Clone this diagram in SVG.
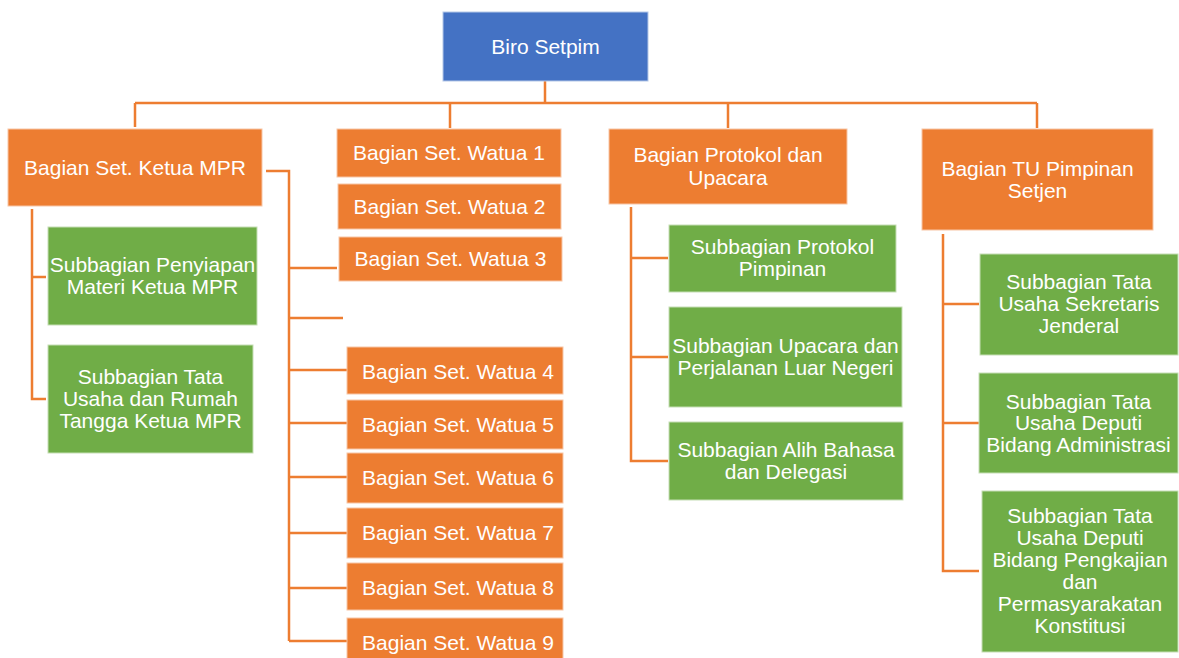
<svg xmlns="http://www.w3.org/2000/svg" width="1179" height="658" viewBox="0 0 1179 658">
<style>
.o{fill:#ED7D31;stroke:#F7C6A6;stroke-width:1}
.g{fill:#70AD47;stroke:#C5DEB5;stroke-width:1}
.b{fill:#4472C4;stroke:#B4C7E7;stroke-width:1}
text{font-family:"Liberation Sans",Arial,sans-serif;font-size:21px;fill:#FFFFFF;text-anchor:middle}
.c{fill:none;stroke:#ED7D31;stroke-width:2.5}
</style>
<rect width="1179" height="658" fill="#FFFFFF"/>
<g id="connectors">
<path class="c" d="M545 81V103M135 103H1037M135 103V127M450 103V128M728 103V128M1037 103V128"/>
<path class="c" d="M266 171H289V641M289 268H337M289 318H343M289 370H347M289 423H347M289 477H347M289 533H347M289 588H347M289 641H347"/>
<path class="c" d="M32 209V399H46M32 277H46"/>
<path class="c" d="M631 207V461H668M631 258H668M631 357H668"/>
<path class="c" d="M943 234V571H979M943 304H979M943 423H979"/>
</g>
<g id="biro"><rect class="b" x="443" y="12" width="205" height="69"/><text x="545.5" y="54">Biro Setpim</text></g>
<g id="ketua"><rect class="o" x="8" y="129" width="254" height="77"/><text x="135" y="175">Bagian Set. Ketua MPR</text></g>
<g id="penyiapan"><rect class="g" x="48" y="227" width="209" height="98"/><text x="152.5" y="272">Subbagian Penyiapan</text><text x="152.5" y="294">Materi Ketua MPR</text></g>
<g id="rumahtangga"><rect class="g" x="48" y="345" width="205" height="108"/><text x="150.5" y="384">Subbagian Tata</text><text x="150.5" y="406">Usaha dan Rumah</text><text x="150.5" y="428">Tangga Ketua MPR</text></g>
<g id="watua1"><rect class="o" x="337" y="129" width="224" height="48"/><text x="449" y="160">Bagian Set. Watua 1</text></g>
<g id="watua2"><rect class="o" x="338" y="184" width="223" height="45"/><text x="449.5" y="214">Bagian Set. Watua 2</text></g>
<g id="watua3"><rect class="o" x="339" y="237" width="223" height="44"/><text x="450.5" y="266">Bagian Set. Watua 3</text></g>
<g id="watua4"><rect class="o" x="347" y="347" width="216" height="47"/><text x="458" y="379">Bagian Set. Watua 4</text></g>
<g id="watua5"><rect class="o" x="347" y="400" width="216" height="49"/><text x="458" y="432">Bagian Set. Watua 5</text></g>
<g id="watua6"><rect class="o" x="347" y="453" width="216" height="50"/><text x="458" y="485">Bagian Set. Watua 6</text></g>
<g id="watua7"><rect class="o" x="347" y="508" width="216" height="50"/><text x="458" y="540">Bagian Set. Watua 7</text></g>
<g id="watua8"><rect class="o" x="347" y="563" width="216" height="47"/><text x="458" y="595">Bagian Set. Watua 8</text></g>
<g id="watua9"><rect class="o" x="347" y="618" width="216" height="50"/><text x="458" y="650">Bagian Set. Watua 9</text></g>
<g id="protokol"><rect class="o" x="609" y="129" width="238" height="75"/><text x="728" y="162">Bagian Protokol dan</text><text x="728" y="185">Upacara</text></g>
<g id="protokolpimpinan"><rect class="g" x="669" y="225" width="227" height="67"/><text x="782.5" y="254">Subbagian Protokol</text><text x="782.5" y="276">Pimpinan</text></g>
<g id="upacara"><rect class="g" x="669" y="307" width="233" height="100"/><text x="785.5" y="353">Subbagian Upacara dan</text><text x="785.5" y="375">Perjalanan Luar Negeri</text></g>
<g id="alihbahasa"><rect class="g" x="669" y="422" width="234" height="78"/><text x="786" y="457">Subbagian Alih Bahasa</text><text x="786" y="479">dan Delegasi</text></g>
<g id="tupimpinan"><rect class="o" x="922" y="129" width="231" height="101"/><text x="1037.5" y="176">Bagian TU Pimpinan</text><text x="1037.5" y="198">Setjen</text></g>
<g id="sekretaris"><rect class="g" x="980" y="254" width="198" height="101"/><text x="1079" y="289">Subbagian Tata</text><text x="1079" y="311">Usaha Sekretaris</text><text x="1079" y="333">Jenderal</text></g>
<g id="administrasi"><rect class="g" x="979" y="373" width="199" height="100"/><text x="1078.5" y="409">Subbagian Tata</text><text x="1078.5" y="430">Usaha Deputi</text><text x="1078.5" y="452">Bidang Administrasi</text></g>
<g id="pengkajian"><rect class="g" x="982" y="491" width="196" height="161"/><text x="1080" y="523">Subbagian Tata</text><text x="1080" y="545">Usaha Deputi</text><text x="1080" y="567">Bidang Pengkajian</text><text x="1080" y="589">dan</text><text x="1080" y="611">Permasyarakatan</text><text x="1080" y="633">Konstitusi</text></g>
</svg>
